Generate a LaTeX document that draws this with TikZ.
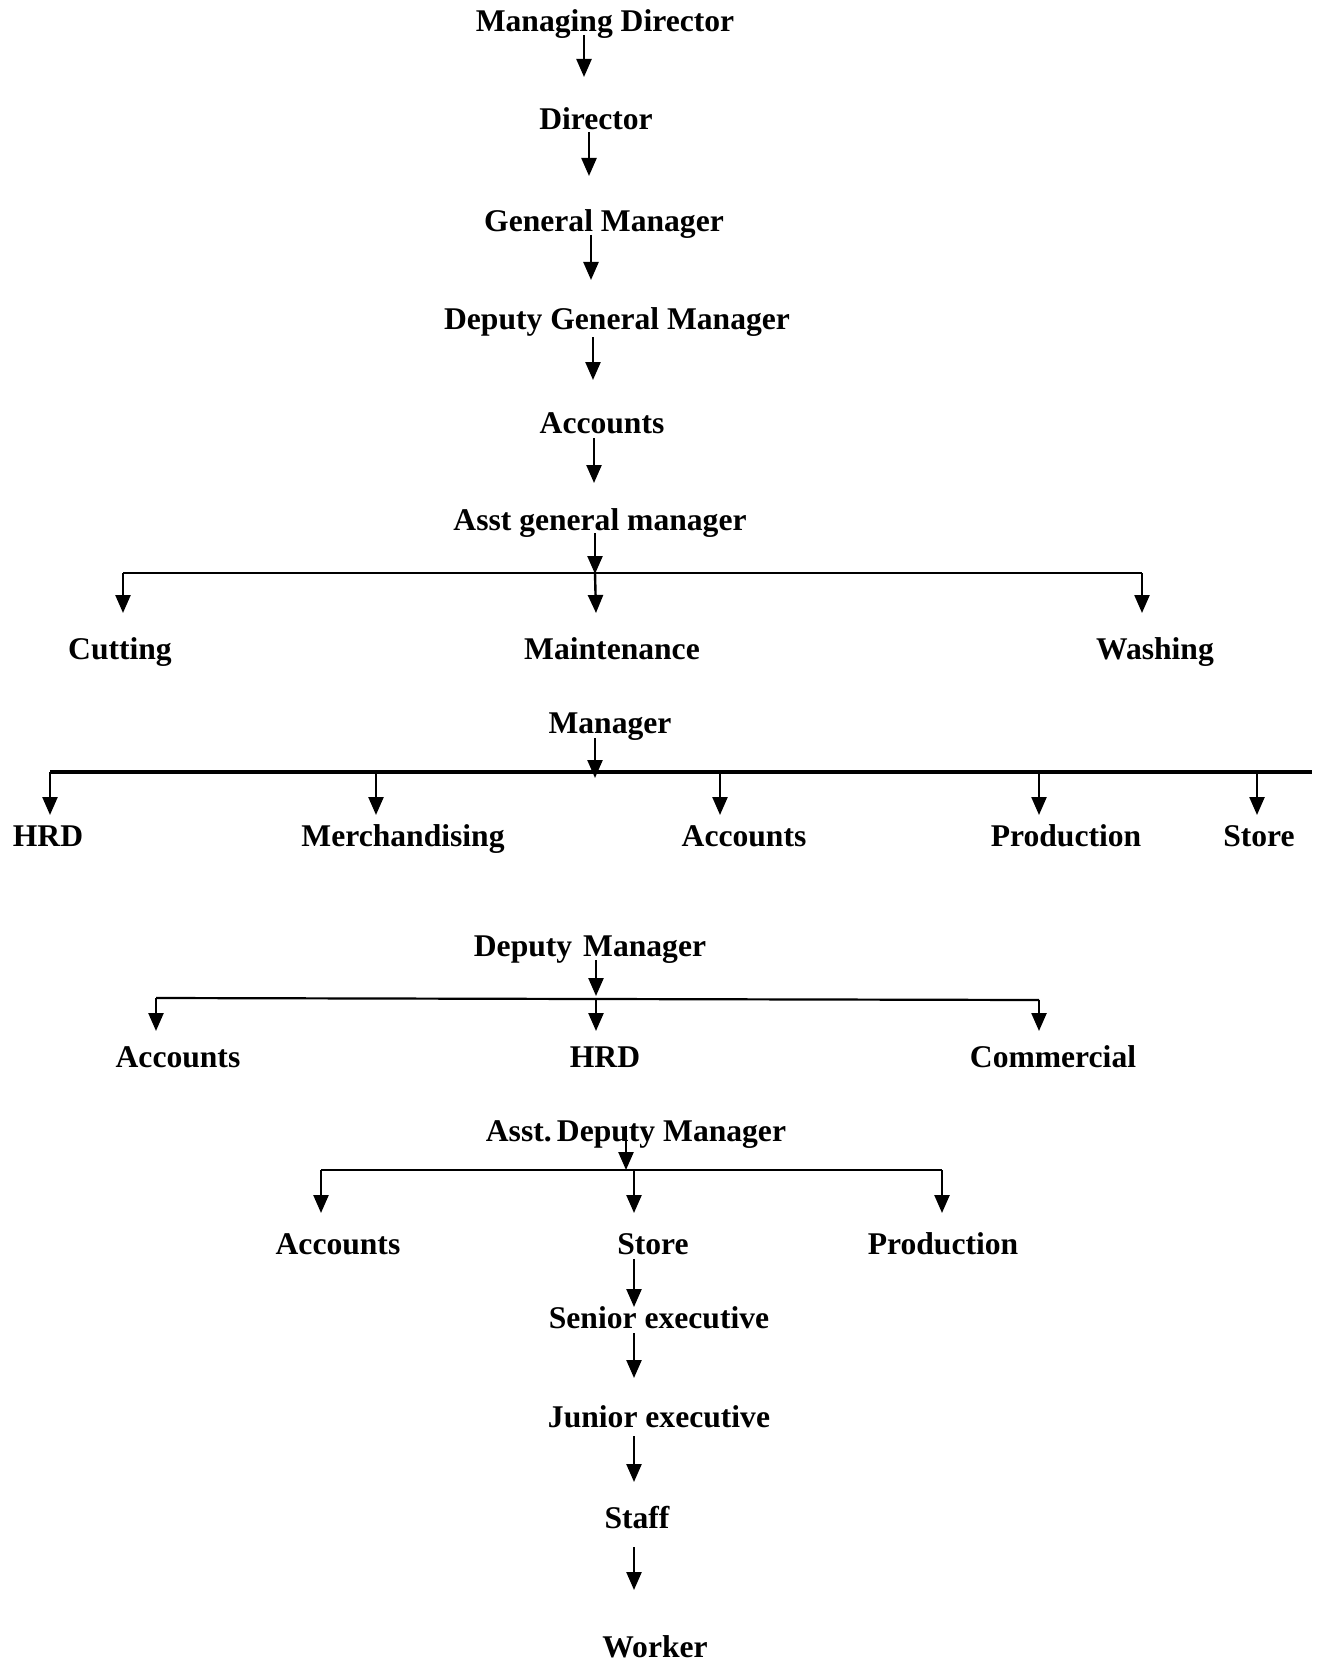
\documentclass[tikz,border=0pt]{standalone}
\usepackage{fontspec}
\setmainfont{Liberation Serif}
\usetikzlibrary{arrows.meta}
\begin{document}
\begin{tikzpicture}[x=1pt,y=-1pt,
  lbl/.style={anchor=base,inner sep=0pt,font=\fontsize{31.6}{38}\selectfont\bfseries},
  arr/.style={line width=2.4pt,-{Triangle[width=15pt,length=18pt]}},
  bar/.style={line width=2.2pt},
  thickbar/.style={line width=3.4pt}]
\useasboundingbox (0,0) rectangle (1318,1661);
% labels
\node[lbl] (md) at (605,32) {Managing Director};
\node[lbl] (dir) at (596,130) {Director};
\node[lbl] (gm) at (604,232) {General Manager};
\node[lbl] (dgm) at (617,330) {Deputy General Manager};
\node[lbl] (acc1) at (602,433) {Accounts};
\node[lbl] (agm) at (600,530) {Asst general manager};
\node[lbl] (cut) at (120,659) {Cutting};
\node[lbl] (mnt) at (612,659) {Maintenance};
\node[lbl] (wash) at (1155,659) {Washing};
\node[lbl] (mgr) at (610,733) {Manager};
\node[lbl] (hrd1) at (48,846) {HRD};
\node[lbl] (mer) at (403,846) {Merchandising};
\node[lbl] (acc2) at (744,846) {Accounts};
\node[lbl] (prod1) at (1066,846) {Production};
\node[lbl] (st1) at (1259,846) {Store};
\node[lbl] (dm) at (590,956) {Deputy\hspace{11pt}Manager};
\node[lbl] (acc3) at (178,1067) {Accounts};
\node[lbl] (hrd2) at (605,1067) {HRD};
\node[lbl] (com) at (1053,1067) {Commercial};
\node[lbl] (adm) at (636,1141) {Asst.\,Deputy Manager};
\node[lbl] (acc4) at (338,1254) {Accounts};
\node[lbl] (st2) at (653,1254) {Store};
\node[lbl] (prod2) at (943,1254) {Production};
\node[lbl] (se) at (659,1328) {Senior executive};
\node[lbl] (je) at (659,1427) {Junior executive};
\node[lbl] (staff) at (637,1528) {Staff};
\node[lbl] (wk) at (655,1657) {Worker};
% simple chain arrows
\coordinate (a1s) at (584,35);  \coordinate (a1e) at (584,77);
\coordinate (a2s) at (589,132); \coordinate (a2e) at (589,176);
\coordinate (a3s) at (591,235); \coordinate (a3e) at (591,280);
\coordinate (a4s) at (593,337); \coordinate (a4e) at (593,380);
\coordinate (a5s) at (594,438); \coordinate (a5e) at (594,483);
\draw[arr] (a1s) -- (a1e);
\draw[arr] (a2s) -- (a2e);
\draw[arr] (a3s) -- (a3e);
\draw[arr] (a4s) -- (a4e);
\draw[arr] (a5s) -- (a5e);
% Asst general manager branch
\coordinate (b1s) at (595,533); \coordinate (b1j) at (595,574);
\coordinate (b1l) at (123,573); \coordinate (b1r) at (1142,573);
\draw[arr] (b1s) -- (b1j);
\draw[bar] (b1l) -- (b1r);
\draw[arr] (b1l) -- (123,613);
\draw[arr] (595,573) -- (596,613);
\draw[arr] (b1r) -- (1142,613);
% Manager branch
\coordinate (b2s) at (595,738); \coordinate (b2j) at (595,778);
\coordinate (b2l) at (50,772); \coordinate (b2r) at (1312,772);
\draw[arr] (b2s) -- (b2j);
\draw[thickbar] (b2l) -- (b2r);
\draw[arr] (50,772) -- (50,815);
\draw[arr] (376,772) -- (376,815);
\draw[arr] (720,772) -- (720,815);
\draw[arr] (1039,772) -- (1039,815);
\draw[arr] (1257,772) -- (1257,815);
% Deputy Manager branch
\coordinate (b3s) at (596,960); \coordinate (b3j) at (596,996);
\coordinate (b3l) at (156,998); \coordinate (b3r) at (1039,1000);
\draw[arr] (b3s) -- (b3j);
\draw[bar] (b3l) -- (b3r);
\draw[arr] (b3l) -- (156,1031);
\draw[arr] (596,999) -- (596,1031);
\draw[arr] (b3r) -- (1039,1031);
% Asst. Deputy Manager branch
\coordinate (b4s) at (626,1126); \coordinate (b4j) at (626,1170);
\coordinate (b4l) at (321,1170); \coordinate (b4r) at (942,1170);
\draw[arr] (b4s) -- (b4j);
\draw[bar] (b4l) -- (b4r);
\draw[arr] (b4l) -- (321,1213);
\draw[arr] (634,1170) -- (634,1213);
\draw[arr] (b4r) -- (942,1213);
% lower chain
\draw[arr] (634,1259) -- (634,1307);
\draw[arr] (634,1333) -- (634,1378);
\draw[arr] (634,1436) -- (634,1482);
\draw[arr] (634,1547) -- (634,1590);
\end{tikzpicture}
\end{document}
